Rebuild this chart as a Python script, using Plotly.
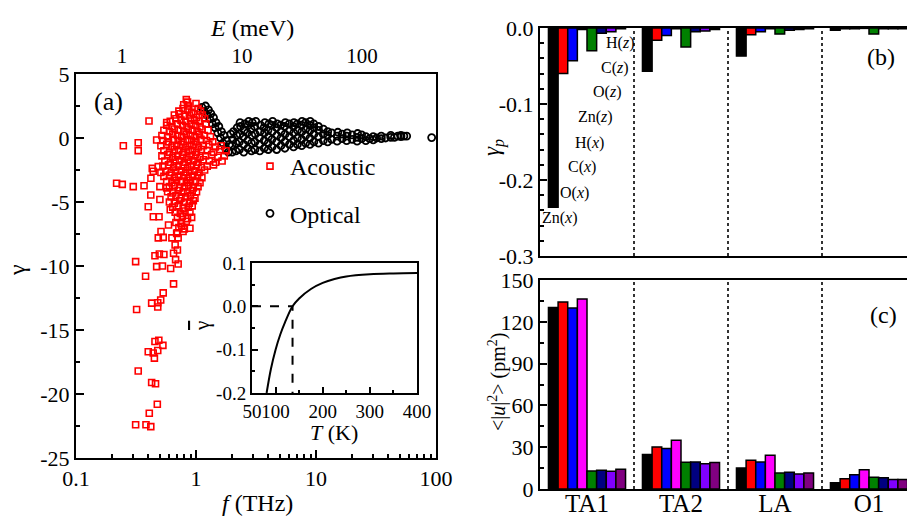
import math
import plotly.graph_objects as go

# ---------------- Panel (a): Grüneisen parameter vs frequency ----------------
THZ_PER_MEV = 0.2418

ac_f = [0.218, 0.243, 0.300, 0.369, 0.421, 0.432, 0.248, 0.330, 0.330, 0.406, 0.570, 0.470,
        0.400, 0.441, 0.492, 0.511, 0.485, 0.533, 0.670, 0.700, 0.650, 0.455, 0.495, 0.540,
        0.314, 0.676, 0.710, 0.470, 0.525, 0.615, 0.380, 0.650, 0.533, 0.508, 0.427, 0.480,
        0.320, 0.480, 0.455, 0.490, 0.530, 0.400, 0.440, 0.480, 0.450, 0.330, 0.427, 0.460,
        0.476, 0.408, 0.314, 0.383, 0.420,
        0.50, 0.57, 0.51, 0.44, 0.485, 0.42, 0.50, 0.61, 0.59, 0.76, 0.69, 0.89, 0.63, 0.71,
        0.83, 0.85,
        0.79, 0.87, 1.00,
        0.72, 0.78, 0.85, 0.92, 1.04, 1.09,
        0.66, 0.73, 0.80, 0.88, 0.95, 1.01, 1.13,
        0.61, 0.68, 0.75, 0.82, 0.90, 0.97, 1.06, 1.18,
        0.57, 0.63, 0.70, 0.77, 0.84, 0.91, 0.99, 1.08, 1.21,
        0.54, 0.60, 0.66, 0.72, 0.79, 0.86, 0.93, 1.02, 1.12, 1.26,
        0.52, 0.58, 0.64, 0.70, 0.76, 0.83, 0.90, 0.98, 1.07, 1.17, 1.32,
        0.53, 0.59, 0.65, 0.71, 0.78, 0.85, 0.92, 1.00, 1.10, 1.22, 1.38,
        0.51, 0.57, 0.63, 0.69, 0.75, 0.82, 0.89, 0.96, 1.05, 1.15, 1.28, 1.45, 1.62,
        0.54, 0.60, 0.66, 0.72, 0.79, 0.86, 0.93, 1.01, 1.11, 1.24, 1.40, 1.58, 1.78,
        0.52, 0.58, 0.64, 0.70, 0.77, 0.84, 0.91, 0.99, 1.08, 1.20, 1.35, 1.52, 1.72,
        0.55, 0.61, 0.67, 0.73, 0.80, 0.87, 0.95, 1.04, 1.15, 1.29, 1.46, 1.65,
        0.53, 0.59, 0.65, 0.71, 0.78, 0.85, 0.92, 1.01, 1.11, 1.24, 1.40,
        0.56, 0.62, 0.68, 0.75, 0.82, 0.89, 0.97, 1.06, 1.18,
        0.54, 0.60, 0.66, 0.72, 0.79, 0.86, 0.94, 1.03, 1.12,
        0.57, 0.63, 0.69, 0.76, 0.83, 0.90, 0.99, 1.08,
        0.60, 0.66, 0.73, 0.80, 0.87, 0.95, 1.04,
        0.58, 0.64, 0.71, 0.78, 0.85, 0.93, 1.01,
        0.62, 0.68, 0.75, 0.82, 0.90, 0.98,
        0.60, 0.66, 0.73, 0.80, 0.88, 0.95,
        0.64, 0.71, 0.78, 0.86, 0.93,
        0.67, 0.74, 0.81, 0.89,
        0.70, 0.77, 0.85, 0.92,
        0.68, 0.75, 0.83,
        0.72, 0.80,
        0.70, 0.78]
ac_g = [-3.54, -3.62, -3.80, -3.73, -3.15, -2.37, -0.60, -0.37, -0.99, 1.33, 1.20, -0.16,
        -5.37, -6.15, -6.15, -7.30, -7.80, -7.76, -8.36, -8.75, -9.00, -9.20, -9.06, -9.10,
        -9.66, -9.50, -9.84, -10.05, -10.00, -10.20, -10.80, -11.40, -12.10, -12.66, -12.90, -12.87,
        -13.40, -13.20, -15.90, -15.80, -16.20, -16.70, -16.80, -16.60, -17.20, -18.20, -19.10, -19.20,
        -20.80, -21.50, -22.40, -22.40, -22.55,
        -3.8, -3.9, -2.7, -2.6, -2.24, -4.45, -4.8, -5.6, -6.8, -6.9, -7.45, -7.05, -7.8, -7.8,
        3.0, 2.8,
        2.6, 2.5, 2.7,
        2.1, 2.3, 2.2, 2.0, 2.3, 2.1,
        1.8, 1.9, 1.7, 1.8, 1.9, 1.6, 1.8,
        1.3, 1.5, 1.4, 1.3, 1.5, 1.4, 1.3, 1.5,
        1.0, 0.9, 1.1, 1.0, 0.9, 1.1, 1.0, 0.9, 1.1,
        0.6, 0.5, 0.7, 0.6, 0.5, 0.7, 0.6, 0.5, 0.7, 0.6,
        0.2, 0.1, 0.3, 0.2, 0.1, 0.3, 0.2, 0.1, 0.3, 0.2, 0.1,
        -0.2, -0.3, -0.1, -0.2, -0.3, -0.1, -0.2, -0.3, -0.1, -0.2, -0.3,
        -0.6, -0.5, -0.7, -0.6, -0.5, -0.7, -0.6, -0.5, -0.7, -0.6, -0.5, -0.7, -0.6,
        -1.0, -1.1, -0.9, -1.0, -1.1, -0.9, -1.0, -1.1, -0.9, -1.0, -1.1, -0.9, -1.0,
        -1.4, -1.3, -1.5, -1.4, -1.3, -1.5, -1.4, -1.3, -1.5, -1.4, -1.3, -1.5, -1.4,
        -1.8, -1.9, -1.7, -1.8, -1.9, -1.7, -1.8, -1.9, -1.7, -1.8, -1.9, -1.8,
        -2.2, -2.1, -2.3, -2.2, -2.1, -2.3, -2.2, -2.1, -2.3, -2.2, -2.1,
        -2.6, -2.7, -2.5, -2.6, -2.7, -2.5, -2.6, -2.7, -2.5,
        -3.0, -2.9, -3.1, -3.0, -2.9, -3.1, -3.0, -2.9, -3.1,
        -3.4, -3.5, -3.3, -3.4, -3.5, -3.3, -3.4, -3.5,
        -3.8, -3.7, -3.9, -3.8, -3.7, -3.9, -3.8,
        -4.2, -4.3, -4.1, -4.2, -4.3, -4.1, -4.2,
        -4.6, -4.5, -4.7, -4.6, -4.5, -4.7,
        -5.0, -5.1, -4.9, -5.0, -5.1, -4.9,
        -5.4, -5.3, -5.5, -5.4, -5.3,
        -5.8, -5.9, -5.7, -5.8,
        -6.2, -6.1, -6.3, -6.2,
        -6.6, -6.7, -6.5,
        -7.0, -7.1,
        -7.4, -7.3]

op_f = [1.12, 1.16, 1.20, 1.23, 1.27, 1.30, 1.33, 1.37, 1.40, 1.44, 1.47, 1.52, 1.55, 1.60, 1.63,
        1.68, 1.71, 1.76, 1.80, 1.86, 1.90, 1.95,
        2.00, 2.00, 2.02, 2.05,
        2.15, 2.15, 2.18, 2.20,
        2.30, 2.30, 2.32, 2.35, 2.33,
        2.50, 2.50, 2.48, 2.52, 2.55,
        2.70, 2.70, 2.68, 2.72, 2.75,
        2.90, 2.90, 2.92, 2.88, 2.95,
        3.10, 3.10, 3.12, 3.08, 3.15,
        3.40, 3.40, 3.38, 3.42, 3.45,
        3.70, 3.70, 3.72, 3.68, 3.75,
        4.00, 4.00, 4.02, 3.98, 4.05,
        4.30, 4.30, 4.32, 4.28, 4.35,
        4.70, 4.70, 4.72, 4.68, 4.75,
        5.10, 5.10, 5.12, 5.08,
        5.50, 5.50, 5.52, 5.48, 5.55,
        6.00, 6.00, 6.02, 5.98,
        6.50, 6.50, 6.52, 6.48, 6.55,
        7.00, 7.00, 7.02, 6.98,
        7.60, 7.60, 7.62, 7.58, 7.65,
        8.20, 8.20, 8.22, 8.18,
        8.90, 8.90, 8.92, 8.88, 8.95,
        9.60, 9.60, 9.62, 9.58,
        10.5, 10.5, 10.52, 10.48,
        11.5, 11.5, 11.52,
        12.5, 12.5, 12.52,
        13.5, 13.5,
        15.0, 15.0, 15.2,
        16.5, 16.5,
        18.0, 18.0, 18.2,
        20.0, 20.0,
        22.0, 22.0, 22.2,
        24.0, 24.0,
        26.0, 26.0,
        28.0,
        30.0, 30.0,
        32.0,
        35.0, 35.0,
        38.0,
        42.0, 42.0,
        45.0,
        48.0,
        51.0, 51.0,
        54.0,
        57.0,
        92.0]
op_g = [2.4, 2.1, 2.5, 1.8, 2.2, 1.5, 1.9, 1.1, 1.6, 0.8, 1.2, 0.4, 0.9, 0.0, 0.5,
        -0.4, 0.2, -0.8, -0.2, -1.1, -0.5, 0.3,
        -1.1, -0.6, -0.1, 0.5,
        -1.0, -0.4, 0.2, 0.8,
        -0.9, -0.3, 0.3, 0.9, 1.2,
        -1.1, -0.5, 0.1, 0.6, 1.1,
        -0.8, -0.2, 0.4, 1.0, 1.3,
        -1.0, -0.4, 0.2, 0.7, 1.2,
        -0.9, -0.3, 0.3, 0.9, 1.3,
        -1.0, -0.5, 0.0, 0.5, 1.0,
        -0.8, -0.2, 0.4, 0.8, 1.2,
        -0.9, -0.4, 0.1, 0.6, 1.1,
        -0.7, -0.1, 0.5, 1.0, 1.3,
        -0.9, -0.3, 0.2, 0.8, 1.1,
        -0.6, 0.0, 0.5, 1.0,
        -0.8, -0.3, 0.3, 0.9, 1.2,
        -0.5, 0.1, 0.6, 1.1,
        -0.7, -0.2, 0.4, 0.9, 1.2,
        -0.5, 0.0, 0.6, 1.1,
        -0.6, -0.1, 0.5, 1.0, 1.3,
        -0.4, 0.2, 0.7, 1.2,
        -0.5, 0.0, 0.6, 1.0, 1.3,
        -0.3, 0.3, 0.8, 1.1,
        -0.4, 0.1, 0.6, 0.9,
        -0.2, 0.3, 0.7,
        -0.3, 0.2, 0.5,
        -0.1, 0.4,
        -0.25, 0.15, 0.45,
        -0.05, 0.3,
        -0.2, 0.15, 0.4,
        -0.1, 0.25,
        -0.25, 0.05, 0.35,
        -0.05, 0.25,
        -0.2, 0.1,
        -0.05,
        -0.15, 0.1,
        0.0,
        -0.05, 0.15,
        0.0,
        0.05, 0.2,
        0.05,
        0.15,
        0.1, 0.2,
        0.15,
        0.15,
        0.03]

E_ticks = [1, 10, 100]
f_ticks = [0.1, 1, 10, 100]
g_ticks = [-25, -20, -15, -10, -5, 0, 5]

# ---------------- Inset: mean Grüneisen parameter vs T ----------------
inset_T = [81, 90, 100, 110, 120, 136, 150, 175, 200, 225, 250, 300, 350, 400]
inset_g = [-0.200, -0.145, -0.100, -0.065, -0.037, 0.000, 0.018, 0.040, 0.054, 0.063, 0.069, 0.074, 0.076, 0.077]
T0 = 136
inset_T_ticks = [50, 100, 200, 300, 400]
inset_g_ticks = [-0.2, -0.1, 0.0, 0.1]

# ---------------- Panels (b), (c): mode/atom decomposition ----------------
modes = ["TA1", "TA2", "LA", "O1"]
comps = ["Zn(x)", "O(x)", "C(x)", "H(x)", "Zn(z)", "O(z)", "C(z)", "H(z)"]
colors = ["#000000", "#FF0000", "#0000FF", "#FF00FF", "#008000", "#000080", "#8000FF", "#800080"]

gp_TA1 = [-0.236, -0.060, -0.043, -0.002, -0.030, -0.007, -0.005, -0.001]
gp_TA2 = [-0.057, -0.016, -0.010, -0.001, -0.025, -0.005, -0.004, -0.002]
gp_LA = [-0.037, -0.009, -0.005, -0.001, -0.008, -0.003, -0.002, -0.001]
gp_O1 = [-0.003, -0.001, -0.001, -0.0005, -0.008, -0.001, -0.001, -0.001]

u2_TA1 = [130.2, 134.2, 129.9, 136.4, 12.9, 13.4, 12.7, 14.1]
u2_TA2 = [24.7, 30.2, 29.0, 35.0, 19.2, 19.4, 18.2, 19.0]
u2_LA = [15.1, 20.6, 19.4, 24.2, 11.5, 12.0, 10.8, 11.5]
u2_O1 = [4.5, 7.4, 10.3, 13.9, 8.4, 8.0, 6.9, 6.9]

gp_ticks = [-0.3, -0.2, -0.1, 0.0]
u2_ticks = [0, 30, 60, 90, 120, 150]

gp_by_mode = [gp_TA1, gp_TA2, gp_LA, gp_O1]
u2_by_mode = [u2_TA1, u2_TA2, u2_LA, u2_O1]

# ---------------- figure ----------------
W, H = 907, 516
FONT = "Liberation Serif, Times New Roman, serif"


def px(x):
    return x / W


def py(y):
    return 1 - y / H


def hy(vals, fmt):
    return [fmt.format(v) for v in vals]


fig = go.Figure()

fig.add_trace(go.Scatter(
    x=op_f, y=op_g, mode="markers", name="Optical", legendgroup="op", legendrank=2,
    marker=dict(symbol="circle-open", size=7, color="black", line=dict(width=1.8, color="black")),
    xaxis="x", yaxis="y"))
fig.add_trace(go.Scatter(
    x=ac_f, y=ac_g, mode="markers", name="Acoustic", legendgroup="ac", legendrank=1,
    marker=dict(symbol="square-open", size=6, color="red", line=dict(width=1.6, color="red")),
    xaxis="x", yaxis="y"))
fig.add_trace(go.Scatter(
    x=E_ticks, y=[None] * len(E_ticks), mode="markers", showlegend=False, hoverinfo="skip",
    xaxis="x2", yaxis="y"))

fig.add_trace(go.Scatter(
    x=inset_T, y=inset_g, mode="lines", line=dict(color="black", width=2, shape="spline"),
    showlegend=False, xaxis="x3", yaxis="y3"))
fig.add_trace(go.Scatter(
    x=[inset_T_ticks[0], T0, T0], y=[0, 0, inset_g_ticks[0]], mode="lines",
    line=dict(color="black", width=2, dash="dash"),
    showlegend=False, xaxis="x3", yaxis="y3"))

for i, (comp, col) in enumerate(zip(comps, colors)):
    fig.add_trace(go.Bar(
        x=modes, y=[m[i] for m in gp_by_mode], name=comp, showlegend=False,
        marker=dict(color=col, line=dict(color="black", width=1.5)), xaxis="x4", yaxis="y4"))
    fig.add_trace(go.Bar(
        x=modes, y=[m[i] for m in u2_by_mode], name=comp, showlegend=False,
        marker=dict(color=col, line=dict(color="black", width=1.5)), xaxis="x5", yaxis="y5"))

base_ax = dict(showline=True, linecolor="black", linewidth=2, showgrid=False, zeroline=False,
               automargin=False, tickangle=0,
               ticks="inside", tickcolor="black", tickwidth=1.5,
               tickfont=dict(size=22, color="black", family=FONT))

minor_log = [k * 10 ** e for e in (-1, 0, 1) for k in range(2, 10)]

a_dom_x = [px(76), px(436)]
a_dom_y = [py(458), py(74)]
in_dom_x = [px(252), px(417)]
in_dom_y = [py(393), py(263)]
b_dom_x = [px(540), 1.0]
b_dom_y = [py(256), py(28)]
c_dom_y = [py(489), py(280)]
cat_range = [-0.5, -0.5 + (907 - 540) / 94.0]

fig.update_layout(
    template="none",
    width=W, height=H, margin=dict(l=0, r=0, t=0, b=0, pad=0), autosize=False,
    paper_bgcolor="white", plot_bgcolor="white",
    font=dict(family=FONT, color="black", size=20),
    barmode="group", bargap=0.18, bargroupgap=0,
    showlegend=True,
    legend=dict(x=px(250), y=py(144), xanchor="left", yanchor="top",
                font=dict(size=24, family=FONT, color="black"),
                bgcolor="rgba(0,0,0,0)", borderwidth=0, traceorder="grouped", tracegroupgap=13),
    xaxis=dict(base_ax, type="log", domain=a_dom_x, range=[-1, 2], anchor="y", mirror=True,
               tickvals=f_ticks, ticktext=hy(f_ticks, "{:g}"), ticklen=8,
               minor=dict(ticks="inside", tickvals=minor_log, ticklen=4, tickcolor="black", tickwidth=1.5)),
    xaxis2=dict(type="log", overlaying="x", side="top", anchor="y", automargin=False,
                range=[math.log10(0.1 / THZ_PER_MEV), math.log10(100 / THZ_PER_MEV)],
                tickvals=E_ticks, ticktext=hy(E_ticks, "{:g}"), ticks="", showline=False,
                ticklabelstandoff=6,
                showgrid=False, zeroline=False, tickfont=dict(size=21, color="black", family=FONT)),
    yaxis=dict(base_ax, domain=a_dom_y, range=[-25, 5], anchor="x", mirror=True,
               tickvals=g_ticks, ticktext=hy(g_ticks, "{:g}"), ticklen=8,
               minor=dict(ticks="inside", dtick=2.5, tick0=0, ticklen=4, tickcolor="black", tickwidth=1.5)),
    xaxis3=dict(base_ax, domain=in_dom_x, range=[50, 400], anchor="y3", mirror=True,
                tickvals=inset_T_ticks, ticktext=hy(inset_T_ticks, "{:g}"), ticklen=6,
                tickfont=dict(size=19, color="black", family=FONT),
                minor=dict(ticks="inside", dtick=50, tick0=50, ticklen=3, tickcolor="black", tickwidth=1.5)),
    yaxis3=dict(base_ax, domain=in_dom_y, range=[-0.2, 0.1], anchor="x3", mirror=True,
                tickvals=inset_g_ticks, ticktext=hy(inset_g_ticks, "{:.1f}"), ticklen=6,
                tickfont=dict(size=19, color="black", family=FONT),
                minor=dict(ticks="inside", dtick=0.05, tick0=0, ticklen=3, tickcolor="black", tickwidth=1.5)),
    xaxis4=dict(base_ax, domain=b_dom_x, range=cat_range, anchor="y4", mirror=True,
                showticklabels=False, ticks=""),
    yaxis4=dict(base_ax, domain=b_dom_y, range=[-0.3, 0], anchor="x4", mirror=False,
                tickvals=gp_ticks, ticktext=hy(gp_ticks, "{:.1f}"), ticklen=7,
                minor=dict(ticks="inside", dtick=0.02, tick0=0, ticklen=4, tickcolor="black", tickwidth=1.5)),
    xaxis5=dict(base_ax, domain=b_dom_x, range=cat_range, anchor="y5", mirror=True, ticks="",
                ticklabelstandoff=-9, tickfont=dict(size=25, color="black", family=FONT),
                matches="x4"),
    yaxis5=dict(base_ax, domain=c_dom_y, range=[0, 150], anchor="x5", mirror=False,
                tickvals=u2_ticks, ticktext=hy(u2_ticks, "{:g}"), ticklen=7,
                minor=dict(ticks="inside", dtick=15, tick0=0, ticklen=4, tickcolor="black", tickwidth=1.5)),
)

# mode separators
shapes = []
for xa, ya in (("x4", "y4"), ("x5", "y5")):
    for xs in (0.5, 1.5, 2.5):
        shapes.append(dict(type="line", xref=xa, yref=ya + " domain", x0=xs, x1=xs, y0=0, y1=1,
                           line=dict(color="#333333", width=2, dash="dot")))
fig.update_layout(shapes=shapes)

ann = []


def add_text(text, x, y, size=20, angle=0, xanchor="center"):
    ann.append(dict(text=text, x=px(x), y=py(y), xref="paper", yref="paper", showarrow=False,
                    font=dict(size=size, family=FONT, color="black"), textangle=angle,
                    xanchor=xanchor, yanchor="middle"))


add_text("<i>E</i> (meV)", 252, 28, 24)
add_text("<i>f</i> (THz)", 257, 503, 24)
add_text("γ", 17, 270, 24, -90)
add_text("(a)", 108, 101, 26)
add_text("<i>T</i> (K)", 334, 432, 22)
add_text("<span style='text-decoration:overline'>γ</span>", 202, 326, 21, -90)
add_text("<i>γ</i><sub><i>p</i></sub>", 493, 147, 23, -90)
add_text("&lt;|<i>u</i>|<sup>2</sup>&gt; (pm<sup>2</sup>)", 497, 382, 20, -90)
add_text("(b)", 881, 57, 24)
add_text("(c)", 883, 315, 24)

comp_label_pos = [(560, 218), (574, 193), (582, 167), (589, 143), (595, 117), (607, 92), (615, 68), (620, 43)]
for comp, (lx, ly) in zip(comps, comp_label_pos):
    name, axis = comp.split("(")
    add_text(f"{name}(<i>{axis[0]}</i>)", lx, ly, 16)

fig.update_layout(annotations=ann)

fig.write_html("out.html")
